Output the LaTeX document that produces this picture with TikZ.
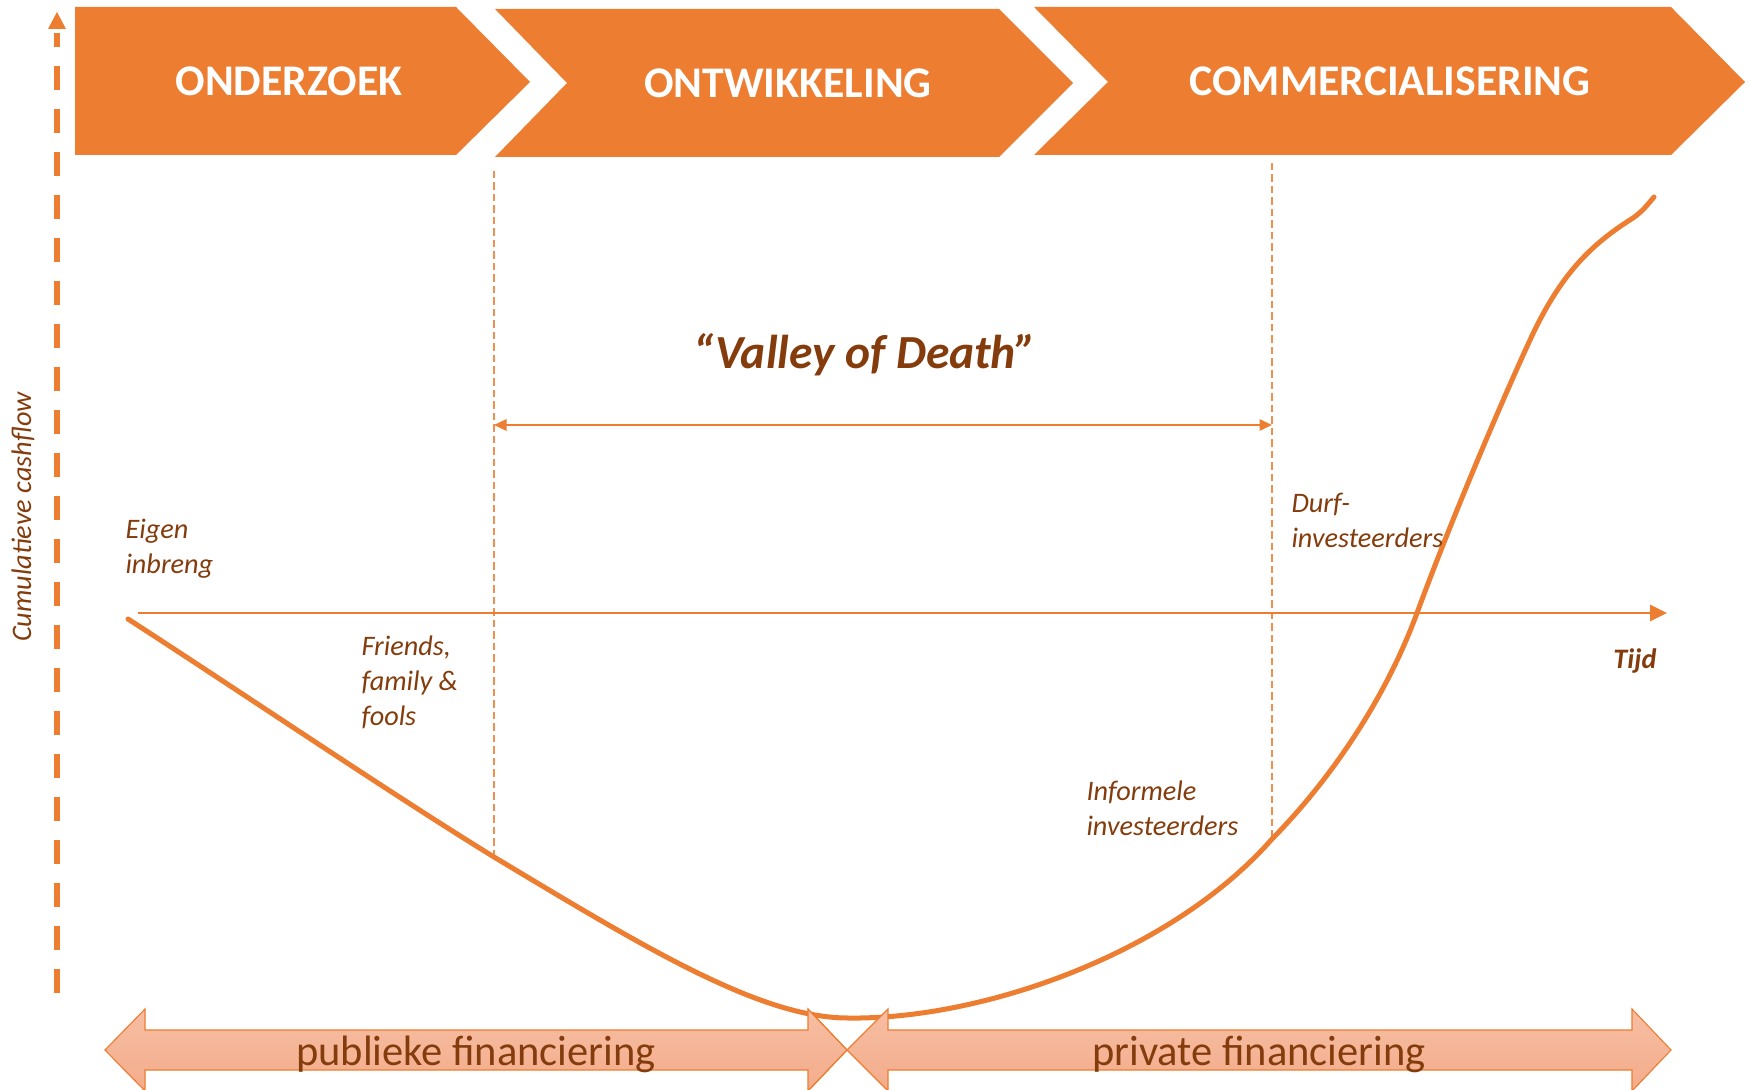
\documentclass[tikz,border=0pt]{standalone}
\usepackage{fontspec}
\setmainfont{Carlito}
\usetikzlibrary{arrows.meta}
\definecolor{orng}{HTML}{ED7D31}
\definecolor{brwn}{HTML}{843C0C}
\definecolor{salmtop}{HTML}{F7BEA3}
\definecolor{salmbot}{HTML}{F3AC8B}
\begin{document}
\begin{tikzpicture}[x=0.4pt,y=-0.4pt,
  phase/.style={fill=orng,draw=none},
  phasetxt/.style={text=white,font=\fontsize{17.5}{20}\selectfont\bfseries,inner sep=0pt},
  lbl/.style={text=brwn,font=\fontsize{11.3}{14}\selectfont\itshape,align=left,inner sep=0pt},
  finarrow/.style={draw=orng,line width=0.45pt,top color=salmtop,bottom color=salmbot},
  fintxt/.style={text=brwn,font=\fontsize{17}{20}\selectfont,inner sep=0pt},
  vguide/.style={draw=orng!85,line width=0.5pt,dash pattern=on 3pt off 1.6pt},
  axisline/.style={draw=orng,line width=1.1pt},
  cashcurve/.style={draw=orng,line width=2pt,line cap=round,line join=round},
]
\useasboundingbox (0,0) rectangle (1750,1090);

% phase chevrons
\path[phase] (75,7) -- (456,7) -- (530,82) -- (456,155) -- (75,155) -- cycle;
\path[phase] (495,9) -- (999,9) -- (1073,83) -- (999,157) -- (495,157) -- (567,83) -- cycle;
\path[phase] (1034,7) -- (1671,7) -- (1745,82) -- (1671,155) -- (1034,155) -- (1108,82) -- cycle;
\node[phasetxt] (p1) at (289,81) {ONDERZOEK};
\node[phasetxt] (p2) at (788,83) {ONTWIKKELING};
\node[phasetxt] (p3) at (1390,81) {COMMERCIALISERING};

% vertical cashflow axis
\coordinate (ya) at (57,993);
\coordinate (yb) at (57,33);
\draw[orng,line width=2.4pt,dash pattern=on 9.6pt off 7.6pt] (ya) -- (yb);
\fill[orng] (48,29) -- (66,29) -- (57,12) -- cycle;
\node[lbl,rotate=90] (cf) at (23,517) {Cumulatieve cashflow};

% guide lines
\coordinate (g1a) at (494,171); \coordinate (g1b) at (494,857);
\coordinate (g2a) at (1272,163); \coordinate (g2b) at (1272,839);
\draw[vguide] (g1a) -- (g1b);
\draw[vguide] (g2a) -- (g2b);

% valley of death
\coordinate (va) at (494,425); \coordinate (vb) at (1272,425);
\draw[orng,line width=0.9pt,{Triangle[length=5pt,width=4.5pt]}-{Triangle[length=5pt,width=4.5pt]}] (va) -- (vb);
\node[text=brwn,font=\fontsize{19}{22}\selectfont\bfseries\itshape,inner sep=0pt] (vod) at (865,355) {“Valley of Death”};

% time axis
\coordinate (ta) at (138,613); \coordinate (tb) at (1667,613);
\draw[axisline,-{Triangle[length=6.8pt,width=6.4pt]}] (ta) -- (tb);
\node[lbl,font=\fontsize{11.3}{14}\selectfont\bfseries\itshape,anchor=east] (tijd) at (1657,661) {Tijd};

% curve
\coordinate (c0) at (128,619);
\coordinate (c1) at (494,857);
\coordinate (c2) at (848,1018);
\coordinate (c3) at (1272,839);
\coordinate (c4) at (1417,613);
\coordinate (c5) at (1530,340);
\coordinate (c6) at (1633,218);
\coordinate (c7) at (1654,197);
\draw[cashcurve] (c0) .. controls (250,698) and (390,793) .. (c1)
  .. controls (644,947) and (760,1018) .. (c2)
  .. controls (980,1020) and (1170,955) .. (c3)
  .. controls (1330,780) and (1385,700) .. (c4)
  .. controls (1450,523) and (1500,405) .. (c5)
  .. controls (1560,275) and (1590,245) .. (c6)
  .. controls (1643,211) and (1648,204) .. (c7);

% labels
\node[lbl,anchor=west] (eigen) at (125,549) {Eigen\\inbreng};
\node[lbl,anchor=west] (fff) at (361,682) {Friends,\\family \&\\fools};
\node[lbl,anchor=west] (durf) at (1291,520) {Durf-\\investeerders};
\node[lbl,anchor=west] (inf) at (1086,808) {Informele\\investeerders};

% financing arrows
\path[finarrow] (105,1050) -- (145,1009) -- (145,1030) -- (808,1030) -- (808,1009) -- (847,1050) -- (808,1091) -- (808,1070) -- (145,1070) -- (145,1091) -- cycle;
\path[finarrow] (847,1050) -- (888,1009) -- (888,1030) -- (1632,1030) -- (1632,1009) -- (1671,1050) -- (1632,1091) -- (1632,1070) -- (888,1070) -- (888,1091) -- cycle;
\draw[orng,line width=0.45pt] (808,1009) -- (847,1050) -- (808,1091);
\node[fintxt,anchor=base] (pub) at (476,1065) {publieke financiering};
\node[fintxt,anchor=base] (priv) at (1259,1065) {private financiering};
\end{tikzpicture}
\end{document}
